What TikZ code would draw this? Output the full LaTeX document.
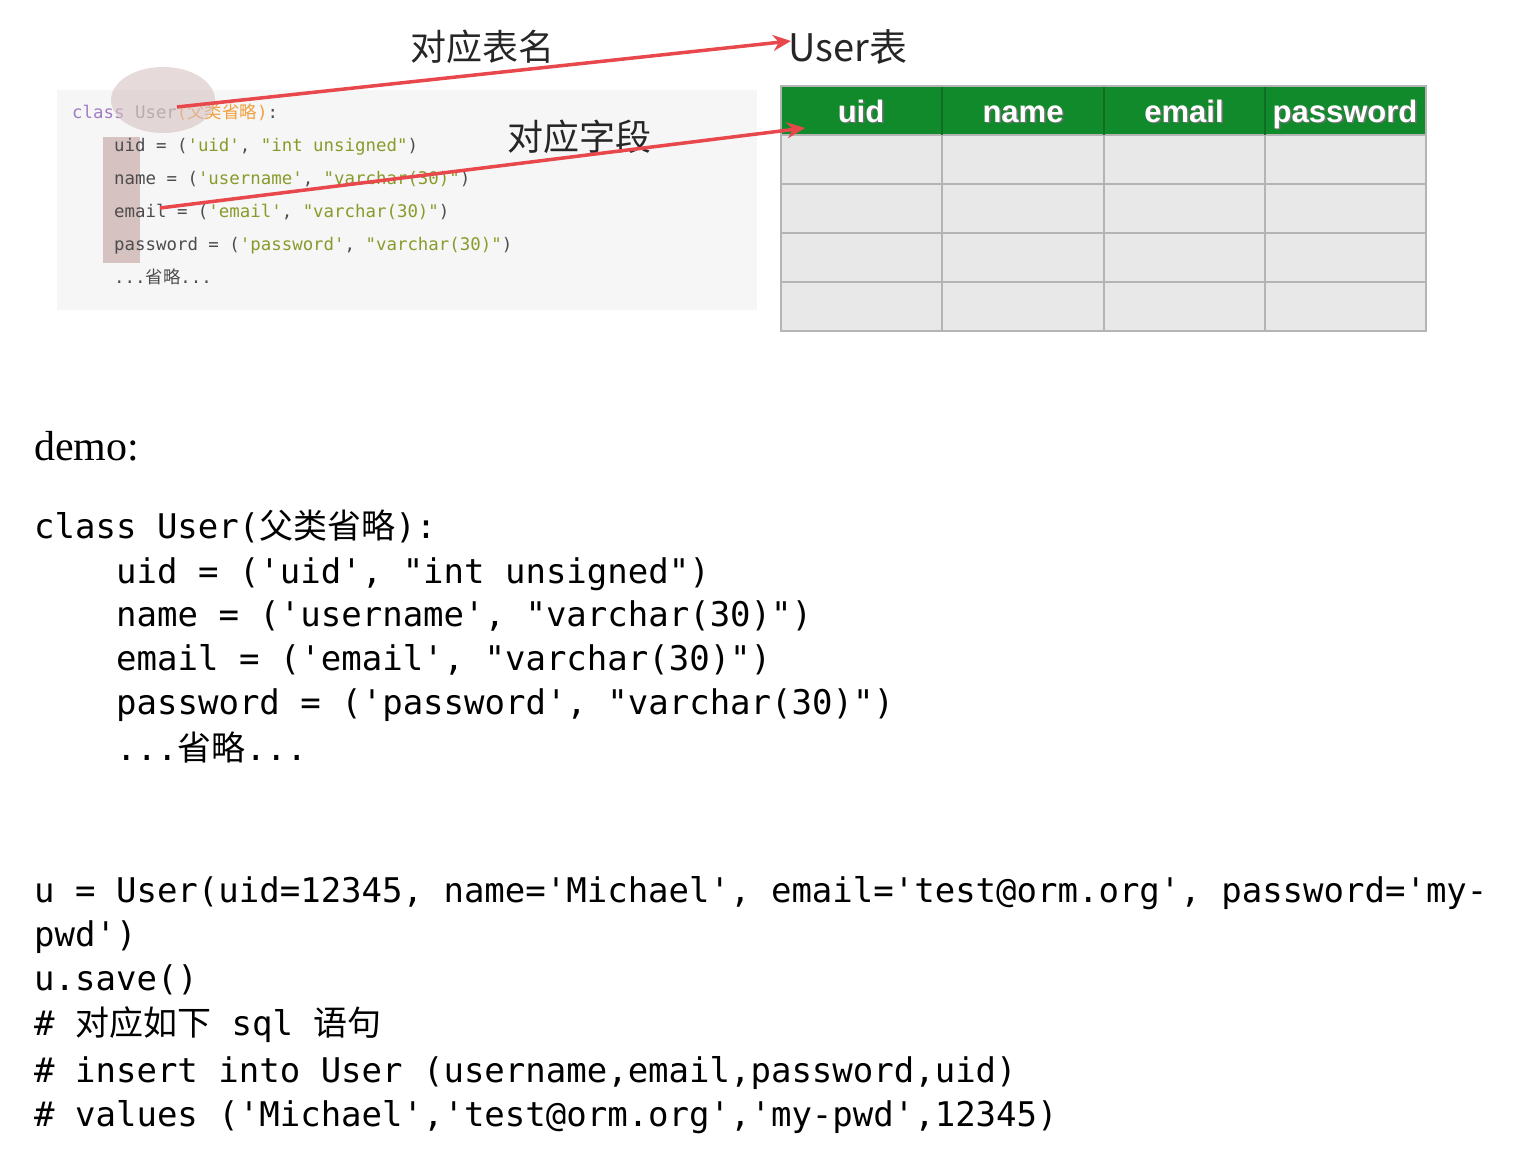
\documentclass[tikz,border=0pt]{standalone}
\usepackage{fontspec}
\setmainfont{Liberation Serif}
\setmonofont{DejaVu Sans Mono}
\newfontfamily\cjk{Noto Sans CJK SC}
\newfontfamily\hdsans{Liberation Sans}
\usetikzlibrary{arrows.meta}
\definecolor{arrowred}{HTML}{E8474C}
\definecolor{hdgreen}{HTML}{118A2C}
\definecolor{cellgray}{HTML}{E8E8E8}
\definecolor{gridgray}{HTML}{B4B4B4}
\definecolor{shotbg}{HTML}{F6F6F6}
\definecolor{kwpurple}{HTML}{A27CC4}
\definecolor{strgreen}{HTML}{8A9A2A}
\definecolor{cmorange}{HTML}{F2A03C}
\definecolor{hlpink}{HTML}{D6C2C2}
\definecolor{colpink}{HTML}{D2BABA}
\begin{document}
\begin{tikzpicture}[x=1pt,y=-1pt,
  small/.style={anchor=base west,inner sep=0pt,text=black!70,
    font=\fontsize{17.4}{20}\selectfont\ttfamily},
  big/.style={anchor=base west,inner sep=0pt,
    font=\fontsize{34}{44}\selectfont\ttfamily},
  label/.style={inner sep=0pt,text=black!85,font=\fontsize{36}{40}\selectfont\cjk},
  hdtext/.style={anchor=base,inner sep=0pt,font=\fontsize{31}{34}\selectfont\hdsans\bfseries},
  redarrow/.style={draw=arrowred,line width=3.5pt,-{Stealth[length=18pt,width=16pt]}}]
\useasboundingbox (0,0) rectangle (1513,1156);

% code screenshot
\fill[shotbg] (57,90) rectangle (757,310);
\fill[colpink,opacity=0.85] (103,137) rectangle (140,263);
\node[small] (cls) at (72,118) {\textcolor{kwpurple}{class} \textcolor{black!45}{User}\textcolor{cmorange}{({\cjk 父类省略})}:};
\node[small] (suid) at (114,151) {uid = (\textcolor{strgreen}{'uid'}, \textcolor{strgreen}{"int unsigned"})};
\node[small] (sname) at (114,184) {name = (\textcolor{strgreen}{'username'}, \textcolor{strgreen}{"varchar(30)"})};
\node[small] (semail) at (114,217) {email = (\textcolor{strgreen}{'email'}, \textcolor{strgreen}{"varchar(30)"})};
\node[small] (spwd) at (114,250) {password = (\textcolor{strgreen}{'password'}, \textcolor{strgreen}{"varchar(30)"})};
\node[small] (sdots) at (114,283) {...{\cjk 省略}...};
\fill[hlpink,opacity=0.6] (163,100) ellipse [x radius=52,y radius=33];

% table
\fill[hdgreen] (781,86) rectangle (1426,135);
\fill[cellgray] (781,135) rectangle (1426,331);
\foreach \y in {135,184,233,282}
  \draw[gridgray,line width=1.2pt] (781,\y) -- (1426,\y);
\foreach \x in {942,1104,1265} {
  \draw[hdgreen!80!black,line width=1.2pt] (\x,86) -- (\x,135);
  \draw[gridgray,line width=1.2pt] (\x,135) -- (\x,331);
}
\draw[gridgray,line width=1.5pt] (781,86) rectangle (1426,331);
\foreach \c/\t in {861/uid,1023/name,1184/email,1345/password} {
  \node[hdtext,text=black!55] at (\c+1.5,123.5) {\t};
  \node[hdtext,text=white] (h\t) at (\c,122) {\t};
}

% labels and arrows
\node[label] (lbltable) at (482,47) {对应表名};
\node[label] (lblfield) at (579,137) {对应字段};
\node[anchor=west,inner sep=0pt,text=black!85,font=\fontsize{38}{40}\selectfont\cjk] (tblname) at (788,47) {User表};
\coordinate (clsfrom) at (177,107);
\coordinate (tbltip) at (791,41);
\coordinate (fldfrom) at (160,208);
\coordinate (fldtip) at (805,128);
\draw[redarrow] (clsfrom) -- (tbltip);
\draw[redarrow] (fldfrom) -- (fldtip);

% demo code
\node[anchor=base west,inner sep=0pt,font=\fontsize{42}{44}\selectfont] (demo) at (34,460) {demo:};
\node[big] (c1) at (34,538) {class User({\cjk 父类省略}):};
\node[big] (c2) at (116,583) {uid = ('uid', "int unsigned")};
\node[big] (c3) at (116,626) {name = ('username', "varchar(30)")};
\node[big] (c4) at (116,670) {email = ('email', "varchar(30)")};
\node[big] (c5) at (116,714) {password = ('password', "varchar(30)")};
\node[big] (c6) at (116,760) {...{\cjk 省略}...};

\node[big] (u1) at (34,902) {u = User(uid=12345, name='Michael', email='test@orm.org', password='my-};
\node[big] (u2) at (34,946) {pwd')};
\node[big] (u3) at (34,990) {u.save()};
\node[big] (u4) at (34,1035) {\# {\cjk 对应如下} sql {\cjk 语句}};
\node[big] (u5) at (34,1082) {\# insert into User (username,email,password,uid)};
\node[big] (u6) at (34,1126) {\# values ('Michael','test@orm.org','my-pwd',12345)};
\end{tikzpicture}
\end{document}
